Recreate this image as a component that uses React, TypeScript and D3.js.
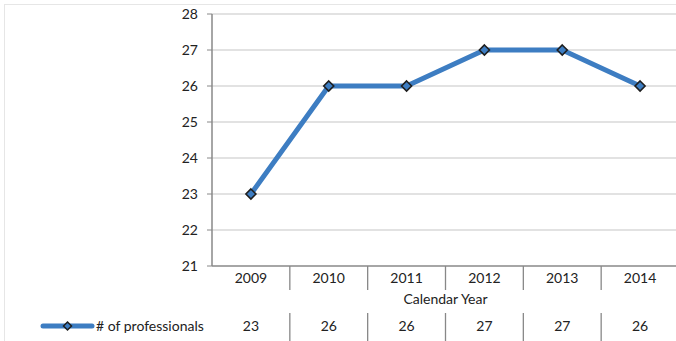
import React from "react";
import * as d3 from "d3";

const years = ["2009", "2010", "2011", "2012", "2013", "2014"];
const professionals = [23, 26, 26, 27, 27, 26];
const yTicks = [21, 22, 23, 24, 25, 26, 27, 28];
const seriesName = "# of professionals";
const axisTitle = "Calendar Year";

const W = 676;
const H = 341;
const left = 212;
const right = 679;
const top = 14;
const bottom = 266;
const font = "Lato, 'Open Sans', sans-serif";
const fs = 14;
const blue = "#3d7dc2";

export default function App() {
  const x = d3.scaleBand<string>().domain(years).range([left, right]);
  const y = d3.scaleLinear().domain([21, 28]).range([bottom, top]);
  const cx = (d: string) => (x(d) as number) + x.bandwidth() / 2;
  const line = d3
    .line<number>()
    .x((_, i) => cx(years[i]))
    .y((v) => y(v));
  const diamond = (px: number, py: number, r: number) =>
    `M${px},${py - r}L${px + r},${py}L${px},${py + r}L${px - r},${py}Z`;

  return (
    <svg width={W} height={H} style={{ position: "absolute", left: 0, top: 0 }}>
      <rect x={0} y={0} width={W} height={H} fill="#fff" />
      <rect x={4.5} y={4.5} width={W + 10} height={H + 10} fill="none" stroke="#e6e6e6" />
      {yTicks.map((t) => (
        <g key={t}>
          {t > 21 && (
            <line x1={left} x2={right} y1={y(t)} y2={y(t)} stroke="#d9d9d9" strokeWidth={1.3} />
          )}
          <line x1={left - 5} x2={left} y1={y(t)} y2={y(t)} stroke="#888" />
          <text
            x={left - 14}
            y={y(t)}
            dy="0.35em"
            textAnchor="end"
            fontFamily={font}
            fontSize={fs}
            fill="#222"
          >
            {t}
          </text>
        </g>
      ))}
      <line x1={left} x2={left} y1={top} y2={bottom} stroke="#888" strokeWidth={1.5} />
      <line x1={left} x2={right} y1={bottom} y2={bottom} stroke="#888" strokeWidth={1.5} />
      {years.map((yr, i) => (
        <g key={yr}>
          {i > 0 && (
            <>
              <line
                x1={x(yr) as number}
                x2={x(yr) as number}
                y1={bottom}
                y2={290}
                stroke="#888"
                strokeWidth={1.3}
              />
              <line
                x1={x(yr) as number}
                x2={x(yr) as number}
                y1={313}
                y2={341}
                stroke="#888"
                strokeWidth={1.3}
              />
            </>
          )}
          <text x={cx(yr)} y={278} dy="0.35em" textAnchor="middle" fontFamily={font} fontSize={fs} fill="#222">
            {yr}
          </text>
          <text x={cx(yr)} y={326} dy="0.35em" textAnchor="middle" fontFamily={font} fontSize={fs} fill="#222">
            {professionals[i]}
          </text>
        </g>
      ))}
      <text
        x={(left + right) / 2}
        y={299}
        dy="0.35em"
        textAnchor="middle"
        fontFamily={font}
        fontSize={fs}
        fill="#222"
      >
        {axisTitle}
      </text>
      <path
        d={line(professionals) as string}
        fill="none"
        stroke={blue}
        strokeWidth={5}
        strokeLinejoin="round"
        strokeLinecap="round"
      />
      {professionals.map((v, i) => (
        <path key={i} d={diamond(cx(years[i]), y(v), 5)} fill={blue} stroke="#1e1e1e" strokeWidth={1.6} />
      ))}
      <line x1={43} x2={92} y1={326} y2={326} stroke={blue} strokeWidth={5} strokeLinecap="round" />
      <path d={diamond(67.5, 326, 4)} fill={blue} stroke="#1e1e1e" strokeWidth={1.5} />
      <text x={96} y={326} dy="0.35em" fontFamily={font} fontSize={fs} fill="#222">
        {seriesName}
      </text>
    </svg>
  );
}
